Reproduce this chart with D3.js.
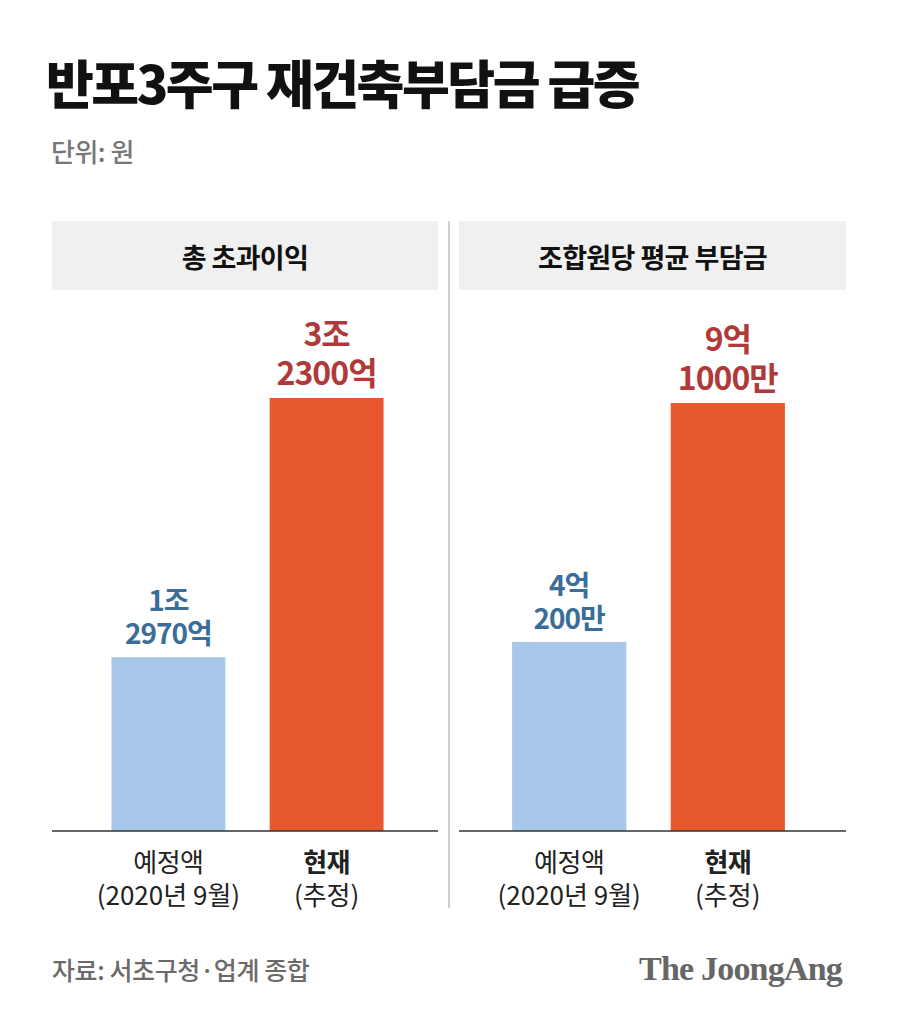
<!DOCTYPE html>
<html>
<head>
<meta charset="utf-8">
<script src="https://cdn.jsdelivr.net/npm/d3@7"></script>
<style>
  body { margin: 0; background: #fff; }
  svg { display: block; }
  text { font-family: "Noto Sans CJK KR", "Noto Sans", sans-serif; }
</style>
</head>
<body>
<svg id="chart"></svg>
<script>
// data
var panelTitles = ["총 초과이익", "조합원당 평균 부담금"]
var categories = ["예정액", "현재"]
var categorySubs = ["(2020년 9월)", "(추정)"]
var excessProfit = [12970, 32300]      // 억원
var perMemberCharge = [40200, 91000]   // 만원
var excessLabels = [["1조", "2970억"], ["3조", "2300억"]]
var chargeLabels = [["4억", "200만"], ["9억", "1000만"]]

var width = 900, height = 1013
var baseline = 831

var svg = d3.select("#chart")
  .attr("width", width)
  .attr("height", height)

// title
svg.append("text")
  .attr("x", 46)
  .attr("y", 104)
  .attr("font-size", 52)
  .attr("font-weight", 900)
  .attr("letter-spacing", -2.5)
  .attr("fill", "#111")
  .text("반포3주구 재건축부담금 급증")

svg.append("text")
  .attr("x", 51)
  .attr("y", 162)
  .attr("font-size", 26)
  .attr("font-weight", 500)
  .attr("letter-spacing", -0.5)
  .attr("fill", "#777")
  .text("단위: 원")

var panels = [
  { title: panelTitles[0], values: excessProfit, labels: excessLabels, x0: 52, x1: 438, band: [54.5, 440.5], top: 398 },
  { title: panelTitles[1], values: perMemberCharge, labels: chargeLabels, x0: 459, x1: 846, band: [455, 842], top: 403 }
]

var barColors = ["#a7c8e9", "#e8582f"]
var labelColors = ["#3b6d99", "#b03a3a"]

// divider
svg.append("line")
  .attr("x1", 449).attr("x2", 449)
  .attr("y1", 221).attr("y2", 908)
  .attr("stroke", "#cfcfcf")
  .attr("stroke-width", 2)

panels.forEach(function(p){
  var g = svg.append("g")

  g.append("rect")
    .attr("x", p.x0)
    .attr("y", 221)
    .attr("width", p.x1 - p.x0)
    .attr("height", 69)
    .attr("fill", "#f0f0f0")

  g.append("text")
    .attr("x", (p.x0 + p.x1) / 2)
    .attr("y", 268)
    .attr("text-anchor", "middle")
    .attr("font-size", 27)
    .attr("font-weight", 700)
    .attr("letter-spacing", -0.6)
    .attr("fill", "#111")
    .text(p.title)

  var x = d3.scaleBand()
    .domain(categories)
    .range(p.band)
    .paddingInner(0.28)
    .paddingOuter(0.36)

  var y = d3.scaleLinear()
    .domain([0, d3.max(p.values)])
    .range([baseline, p.top])

  g.selectAll("rect.bar")
    .data(p.values)
    .enter()
    .append("rect")
      .attr("class", "bar")
      .attr("x", function(d, i){ return x(categories[i]) })
      .attr("y", function(d){ return y(d) })
      .attr("width", x.bandwidth())
      .attr("height", function(d){ return baseline - y(d) })
      .attr("fill", function(d, i){ return barColors[i] })

  // value labels, two lines
  p.values.forEach(function(d, i){
    var big = i == 1
    var lh = big ? 39 : 33
    var t = g.append("text")
      .attr("x", x(categories[i]) + x.bandwidth() / 2)
      .attr("y", y(d) - 13 - lh)
      .attr("text-anchor", "middle")
      .attr("font-size", big ? 32 : 28)
      .attr("font-weight", 700)
      .attr("letter-spacing", -1)
      .attr("fill", labelColors[i])
    t.append("tspan").text(p.labels[i][0])
    t.append("tspan")
      .attr("x", x(categories[i]) + x.bandwidth() / 2)
      .attr("dy", lh)
      .text(p.labels[i][1])
  })

  // baseline
  g.append("line")
    .attr("x1", p.x0).attr("x2", p.x1)
    .attr("y1", baseline).attr("y2", baseline)
    .attr("stroke", "#333")
    .attr("stroke-width", 1.5)

  // category labels
  categories.forEach(function(c, i){
    var cx = x(c) + x.bandwidth() / 2
    g.append("text")
      .attr("x", cx)
      .attr("y", 872)
      .attr("text-anchor", "middle")
      .attr("font-size", 26)
      .attr("font-weight", i == 1 ? 700 : 400)
      .attr("letter-spacing", -0.5)
      .attr("fill", "#222")
      .text(c)
    g.append("text")
      .attr("x", cx)
      .attr("y", 905)
      .attr("text-anchor", "middle")
      .attr("font-size", 26)
      .attr("font-weight", 400)
      .attr("fill", "#222")
      .text(categorySubs[i])
  })
})

// footer
svg.append("text")
  .attr("x", 52)
  .attr("y", 980)
  .attr("font-size", 25)
  .attr("font-weight", 500)
  .attr("letter-spacing", -0.4)
  .attr("fill", "#6a6a6a")
  .text("자료: 서초구청·업계 종합")

svg.append("text")
  .attr("x", 842)
  .attr("y", 980)
  .attr("text-anchor", "end")
  .style("font-family", "'Liberation Serif', 'DejaVu Serif', serif")
  .attr("font-size", 34)
  .attr("font-weight", 700)
  .attr("letter-spacing", -0.8)
  .attr("fill", "#666")
  .text("The JoongAng")
</script>
</body>
</html>
